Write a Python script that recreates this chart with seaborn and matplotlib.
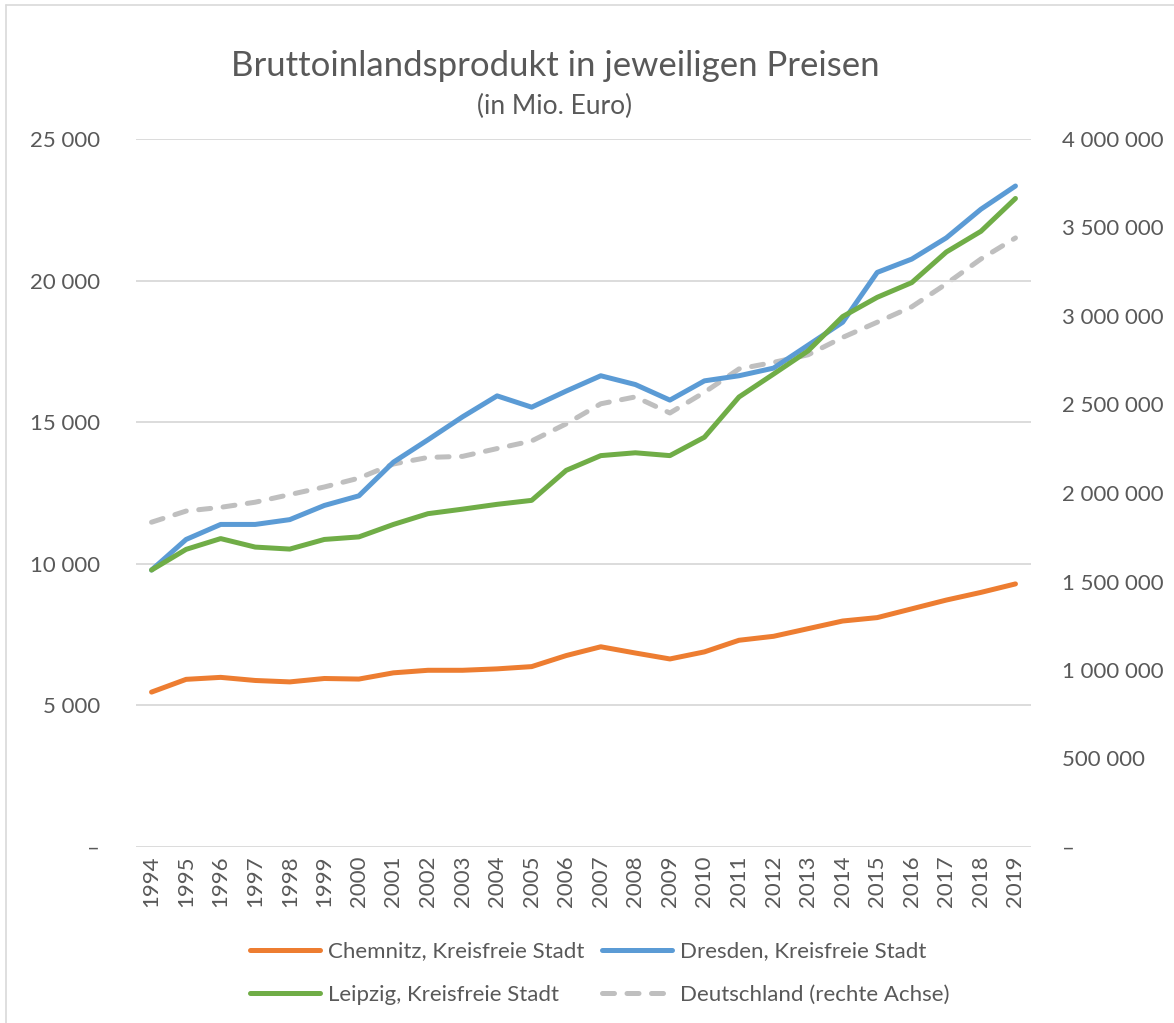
import pandas as pd
import seaborn as sns
import matplotlib.pyplot as plt
from matplotlib.ticker import FuncFormatter, MultipleLocator
from matplotlib.lines import Line2D

years = list(range(1994, 2020))

chemnitz = [5470, 5920, 5990, 5880, 5830, 5950, 5930, 6150, 6240, 6240, 6290, 6370, 6760,
            7070, 6850, 6640, 6890, 7300, 7440, 7710, 7980, 8100, 8410, 8720, 8990, 9290]
dresden = [9780, 10860, 11390, 11390, 11560, 12060, 12400, 13590, 14380, 15190, 15930, 15530, 16100,
           16640, 16330, 15780, 16460, 16640, 16910, 17720, 18530, 20290, 20760, 21510, 22520, 23340]
leipzig = [9780, 10510, 10890, 10590, 10520, 10860, 10950, 11390, 11770, 11930, 12100, 12240, 13300,
           13820, 13920, 13820, 14470, 15890, 16700, 17520, 18730, 19410, 19930, 21010, 21740, 22900]
deutschland = [1835000, 1898000, 1919000, 1948000, 1991000, 2034000, 2084000, 2164000, 2201000,
               2207000, 2251000, 2294000, 2391000, 2504000, 2543000, 2452000, 2569000, 2701000,
               2738000, 2781000, 2879000, 2965000, 3052000, 3182000, 3322000, 3441000]

lbl_chem = 'Chemnitz, Kreisfreie Stadt'
lbl_dres = 'Dresden, Kreisfreie Stadt'
lbl_leip = 'Leipzig, Kreisfreie Stadt'
lbl_de = 'Deutschland (rechte Achse)'

colors = {lbl_chem: '#ED7D31', lbl_dres: '#5B9BD5', lbl_leip: '#70AD47'}
grey_de = '#BFBFBF'
txt = '#595959'
de_dash = (0, (2.4, 2.5))

dfCities = pd.DataFrame({
    'Jahr': years * 3,
    'BIP': chemnitz + dresden + leipzig,
    'Stadt': [lbl_chem] * len(years) + [lbl_dres] * len(years) + [lbl_leip] * len(years),
})
dfDe = pd.DataFrame({'Jahr': years, 'BIP': deutschland})

sns.set_theme(style='white')
plt.rcParams['font.family'] = ['Lato', 'DejaVu Sans']

fig = plt.figure(figsize=(11.74, 10.23), dpi=100)
ax = fig.add_axes([136 / 1174, 176 / 1023, 895 / 1174, 708 / 1023])
ax2 = ax.twinx()

# germany first on right axis, cities drawn on top
sns.lineplot(data=dfDe, x='Jahr', y='BIP', ax=ax2, color=grey_de, lw=3.6,
             linestyle=de_dash, dash_capstyle='round', legend=False)
ax.set_zorder(ax2.get_zorder() + 1)
ax.patch.set_visible(False)

sns.lineplot(data=dfCities, x='Jahr', y='BIP', hue='Stadt', palette=colors,
             hue_order=[lbl_chem, lbl_dres, lbl_leip], ax=ax, lw=3.6,
             solid_capstyle='round', legend=False)

fmt = FuncFormatter(lambda v, p: '–' if v == 0 else f'{v:,.0f}'.replace(',', ' '))

ax.set_xlim(1993.55, 2019.45)
ax.set_ylim(0, 25000)
ax.yaxis.set_major_locator(MultipleLocator(5000))
ax.yaxis.set_major_formatter(fmt)
ax2.set_ylim(0, 4000000)
ax2.yaxis.set_major_locator(MultipleLocator(500000))
ax2.yaxis.set_major_formatter(fmt)

ax.set_xticks(years)
ax.set_xticklabels([str(y) for y in years], rotation=90)
ax.grid(axis='y', color='#D9D9D9', lw=1.3)
ax.set_axisbelow(True)
ax2.grid(False)
for a in (ax, ax2):
    for s in a.spines.values():
        s.set_visible(False)
    a.set_xlabel('')
    a.set_ylabel('')
    a.tick_params(length=0, labelsize=16, colors=txt)
ax.tick_params(axis='y', pad=26)
ax.tick_params(axis='x', pad=6)
ax2.tick_params(axis='y', pad=22)

fig.text(555 / 1174, 1 - 66 / 1023, 'Bruttoinlandsprodukt in jeweiligen Preisen',
         ha='center', va='center', fontsize=25, color=txt)
fig.text(555 / 1174, 1 - 106 / 1023, '(in Mio. Euro)',
         ha='center', va='center', fontsize=19, color=txt)

# legend order: column-major, so rows read Chemnitz/Dresden, Leipzig/Deutschland
handles = [
    Line2D([], [], color=colors[lbl_chem], lw=3.6, solid_capstyle='round'),
    Line2D([], [], color=colors[lbl_leip], lw=3.6, solid_capstyle='round'),
    Line2D([], [], color=colors[lbl_dres], lw=3.6, solid_capstyle='round'),
    Line2D([], [], color=grey_de, lw=3.6, linestyle=de_dash, dash_capstyle='round'),
]
labels = [lbl_chem, lbl_leip, lbl_dres, lbl_de]
leg = fig.legend(handles, labels, loc='center', bbox_to_anchor=(600 / 1174, 1 - 973 / 1023),
                 ncol=2, frameon=False, fontsize=16, handlelength=3.15, handletextpad=0.36,
                 columnspacing=0.8, labelspacing=1.05)
for t in leg.get_texts():
    t.set_color(txt)

# chart area border (only top and left visible in the crop)
fig.add_artist(Line2D([6 / 1174, 6 / 1174], [0, 1 - 5 / 1023], color='#D9D9D9', lw=1.2))
fig.add_artist(Line2D([6 / 1174, 1], [1 - 5 / 1023, 1 - 5 / 1023], color='#D9D9D9', lw=1.2))

fig.savefig('out.png', dpi=100, facecolor='white')
